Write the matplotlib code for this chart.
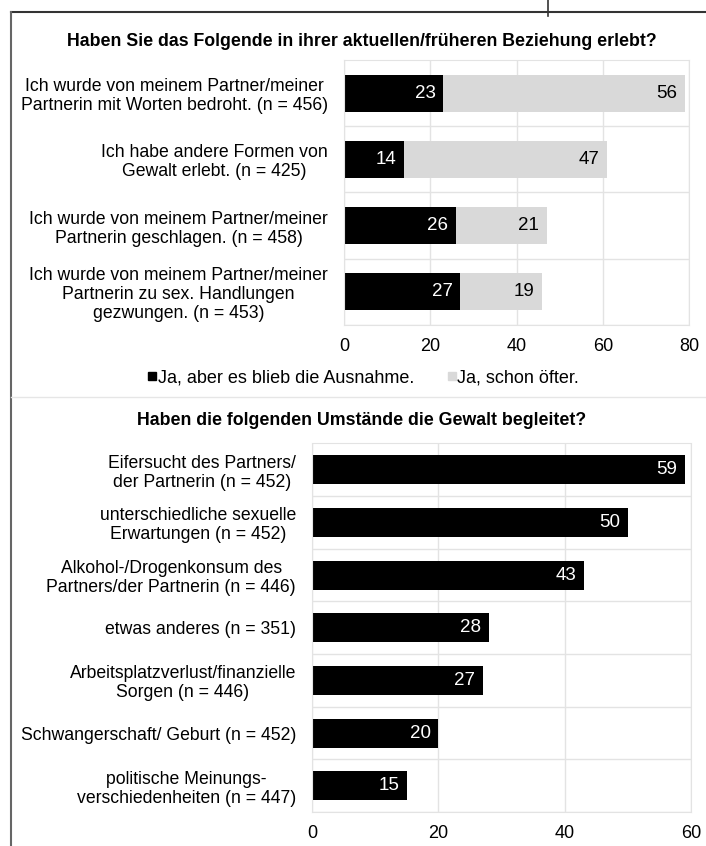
import numpy as np
import matplotlib.pyplot as plt
from matplotlib.lines import Line2D

plt.rcParams['font.family'] = ['Liberation Sans', 'DejaVu Sans']

# obere Grafik
titel_oben = "Haben Sie das Folgende in ihrer aktuellen/früheren Beziehung erlebt?"
kat_oben = ["Ich wurde von meinem Partner/meiner\nPartnerin mit Worten bedroht. (n = 456)",
            "Ich habe andere Formen von\nGewalt erlebt. (n = 425)",
            "Ich wurde von meinem Partner/meiner\nPartnerin geschlagen. (n = 458)",
            "Ich wurde von meinem Partner/meiner\nPartnerin zu sex. Handlungen\ngezwungen. (n = 453)"]
ausnahme = [23, 14, 26, 27]
oefter = [56, 47, 21, 19]
legende = ["Ja, aber es blieb die Ausnahme.", "Ja, schon öfter."]

# untere Grafik
titel_unten = "Haben die folgenden Umstände die Gewalt begleitet?"
kat_unten = ["Eifersucht des Partners/\nder Partnerin (n = 452)",
             "unterschiedliche sexuelle\nErwartungen (n = 452)",
             "Alkohol-/Drogenkonsum des\nPartners/der Partnerin (n = 446)",
             "etwas anderes (n = 351)",
             "Arbeitsplatzverlust/finanzielle\nSorgen (n = 446)",
             "Schwangerschaft/ Geburt (n = 452)",
             "politische Meinungs-\nverschiedenheiten (n = 447)"]
werte_unten = [59, 50, 43, 28, 27, 20, 15]

W, H = 706, 846
fig = plt.figure(figsize=(W/100, H/100), dpi=100)

grau = "#d9d9d9"
gitter = "#e3e3e3"
fs = 12.7


def achse_stil(ax, n, ticks):
    ax.set_ylim(n - 0.5, -0.5)
    ax.set_xticks(ticks)
    ax.set_yticks(np.arange(n) + 0.5, minor=True)
    ax.grid(axis='x', color=gitter, lw=1)
    ax.grid(axis='y', which='minor', color=gitter, lw=1)
    ax.set_axisbelow(True)
    for s in ax.spines.values():
        s.set_color(gitter)
    ax.tick_params(axis='both', which='both', length=0)
    ax.tick_params(axis='x', pad=9.5, labelsize=13)
    ax.tick_params(axis='y', pad=11.5, labelsize=fs)
    for lab in ax.get_yticklabels():
        lab.set_multialignment('center')
        lab.set_linespacing(1.15)


def beschriften(ax, bars, farbe):
    for b in bars:
        ax.annotate(str(int(round(b.get_width()))), (b.get_x() + b.get_width(), b.get_y() + b.get_height() / 2),
                    xytext=(-5.5, 0), textcoords='offset points', ha='right', va='center',
                    color=farbe, fontsize=13.5)


# --- oben ---
ax1 = fig.add_axes([344/W, 1 - 325/H, 345/W, 265/H])
y1 = np.arange(len(kat_oben))
b1 = ax1.barh(y1, ausnahme, height=0.556, color='black', label=legende[0])
b2 = ax1.barh(y1, oefter, left=ausnahme, height=0.556, color=grau, label=legende[1])
ax1.set_xlim(0, 80)
ax1.set_yticks(y1, kat_oben)
achse_stil(ax1, len(kat_oben), [0, 20, 40, 60, 80])
beschriften(ax1, b1, 'white')
beschriften(ax1, b2, 'black')

fig.text(362/W, 1 - 42/H, titel_oben, ha='center', va='center', fontsize=12.8, fontweight='bold')

griffe = [Line2D([], [], marker='s', ls='none', color='black', markersize=6),
          Line2D([], [], marker='s', ls='none', color=grau, markersize=6)]
fig.legend(griffe, legende, loc='center', bbox_to_anchor=(364/W, 1 - 378/H), ncol=2, frameon=False,
           fontsize=13, handlelength=0.4, handletextpad=0.1, columnspacing=1.9, borderpad=0)

# --- unten ---
ax2 = fig.add_axes([312/W, 1 - 812/H, 379/W, 368.5/H])
y2 = np.arange(len(kat_unten))
b3 = ax2.barh(y2, werte_unten, height=0.55, color='black')
ax2.set_xlim(0, 60)
ax2.set_yticks(y2, kat_unten)
achse_stil(ax2, len(kat_unten), [0, 20, 40, 60])
beschriften(ax2, b3, 'white')

fig.text(362/W, 1 - 420/H, titel_unten, ha='center', va='center', fontsize=12.8, fontweight='bold')

# Rahmen und Trennlinie
fig.add_artist(Line2D([11/W, 1], [1 - 12/H, 1 - 12/H], color='#333333', lw=1.5))
fig.add_artist(Line2D([11/W, 11/W], [0, 1 - 12/H], color='#666666', lw=1.5))
fig.add_artist(Line2D([548/W, 548/W], [1 - 16/H, 1], color='#333333', lw=1.2))
fig.add_artist(Line2D([11/W, 1], [1 - 397/H, 1 - 397/H], color='#e6e6e6', lw=1))

fig.savefig("out.png", dpi=100)
